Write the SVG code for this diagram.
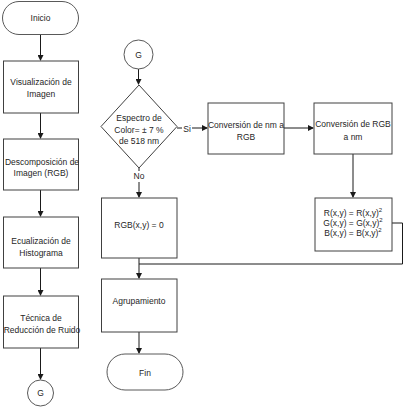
<svg xmlns="http://www.w3.org/2000/svg" width="403" height="407" viewBox="0 0 403 407">
<defs>
<marker id="ah" markerWidth="6" markerHeight="6" refX="5" refY="3" orient="auto" markerUnits="userSpaceOnUse">
<path d="M0,0 L6,3 L0,6 Z" fill="#1a1a1a"/>
</marker>
<style>
.box{fill:#fff;stroke:#404040;stroke-width:1}
.term{fill:#fff;stroke:#595959;stroke-width:1}
.t{font-family:"Liberation Sans",Arial,sans-serif;font-size:8.5px;fill:#262626;text-anchor:middle;dominant-baseline:central}
.c{fill:none;stroke:#1a1a1a;stroke-width:1}
.a{marker-end:url(#ah)}
.lbl{fill:#fff}
</style>
</defs>
<rect width="403" height="407" fill="#fff"/>
<g id="connectors">
<path class="c a" d="M40.5,35 V60"/>
<path class="c a" d="M40.5,113 V138"/>
<path class="c a" d="M40.5,190 V216"/>
<path class="c a" d="M40.5,268 V295"/>
<path class="c a" d="M40.5,348 V379"/>
<path class="c a" d="M138.5,69 V84"/>
<path class="c a" d="M177,128 H207"/>
<path class="c a" d="M139,168 V197"/>
<path class="c a" d="M284,128 H313"/>
<path class="c a" d="M353,154 V197"/>
<path class="c a" d="M139,258 V278"/>
<path class="c" d="M392,223 H402.5 V264 H139"/>
<path class="c a" d="M139,332 V353"/>
<rect class="lbl" x="182" y="122" width="10" height="12"/>
<text class="t" x="187" y="129">Si</text>
<rect class="lbl" x="132" y="171" width="14" height="11"/>
<text class="t" x="139" y="176">No</text>
</g>
<g id="inicio">
<rect class="term" x="2.5" y="1.5" width="76" height="33" rx="16.5"/>
<text class="t" x="40.5" y="18">Inicio</text>
</g>
<g id="visualizacion">
<rect class="box" x="3.5" y="61" width="75" height="52"/>
<text class="t" x="41" y="82">Visualización de</text>
<text class="t" x="41" y="94">Imagen</text>
</g>
<g id="descomposicion">
<rect class="box" x="3.5" y="139" width="75" height="51"/>
<text class="t" x="42" y="162">Descomposición de</text>
<text class="t" x="41" y="173">Imagen (RGB)</text>
</g>
<g id="ecualizacion">
<rect class="box" x="3.5" y="217" width="75" height="51"/>
<text class="t" x="41" y="241">Ecualización de</text>
<text class="t" x="41" y="253">Histograma</text>
</g>
<g id="tecnica">
<rect class="box" x="3.5" y="296" width="75" height="52"/>
<text class="t" x="41" y="318">Técnica de</text>
<text class="t" x="42" y="330">Reducción de Ruido</text>
</g>
<g id="g-left">
<circle class="term" cx="40.5" cy="393" r="13"/>
<text class="t" x="40.5" y="393">G</text>
</g>
<g id="g-right">
<circle class="term" cx="138.5" cy="54.5" r="14.5"/>
<text class="t" x="138.5" y="54.5">G</text>
</g>
<g id="espectro">
<polygon class="box" points="139,85 177,126.5 139,168 101,126.5" stroke="#7f7f7f"/>
<text class="t" x="139" y="118">Espectro de</text>
<text class="t" x="139" y="130">Color= ± 7 %</text>
<text class="t" x="139" y="141">de 518 nm</text>
</g>
<g id="conv-nm-rgb">
<rect class="box" x="208" y="103" width="76" height="51"/>
<text class="t" x="246" y="125">Conversión de nm a</text>
<text class="t" x="246" y="137">RGB</text>
</g>
<g id="conv-rgb-nm">
<rect class="box" x="314" y="103" width="78" height="51"/>
<text class="t" x="353" y="124">Conversión de RGB</text>
<text class="t" x="353" y="137">a nm</text>
</g>
<g id="cuadrado">
<rect class="box" x="315" y="198" width="77" height="53"/>
<text class="t" x="353" y="213">R(x,y) = R(x,y)<tspan font-size="6" dy="-3">2</tspan></text>
<text class="t" x="353" y="223">G(x,y) = G(x,y)<tspan font-size="6" dy="-3">2</tspan></text>
<text class="t" x="353" y="233">B(x,y) = B(x,y)<tspan font-size="6" dy="-3">2</tspan></text>
</g>
<g id="rgb-cero">
<rect class="box" x="101.5" y="198" width="75.5" height="60"/>
<text class="t" x="139" y="225">RGB(x,y) = 0</text>
</g>
<g id="agrupamiento">
<rect class="box" x="101.5" y="279" width="75.5" height="53"/>
<text class="t" x="139" y="301">Agrupamiento</text>
</g>
<g id="fin">
<rect class="term" x="107" y="354" width="76" height="36" rx="18"/>
<text class="t" x="145" y="373">Fin</text>
</g>
</svg>
